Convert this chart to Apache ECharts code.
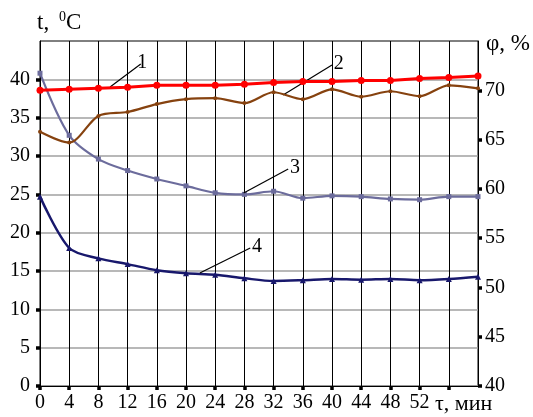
<!DOCTYPE html>
<html>
<head>
<meta charset="utf-8">
<script src="https://cdn.jsdelivr.net/npm/echarts@6/dist/echarts.min.js"></script>
<style>
html,body{margin:0;padding:0;background:#fff;}
#c{width:533px;height:417px;}
</style>
</head>
<body>
<div id="c"></div>
<script>
// time, min
const xValues = [0,4,8,12,16,20,24,28,32,36,40,44,48,52,56,60];
// curve 1 (φ, %)
const s1 = [70.0,70.1,70.2,70.3,70.5,70.5,70.5,70.6,70.8,70.9,70.9,71.0,71.0,71.2,71.3,71.45];
// curve 2 (φ, %)
const s2 = [65.8,64.7,67.4,67.8,68.6,69.1,69.2,68.7,69.8,69.1,70.1,69.35,69.9,69.4,70.5,70.2];
// curve 3 (t, °C)
const s3 = [40.8,32.7,29.6,28.1,27.0,26.1,25.2,25.0,25.4,24.5,24.8,24.7,24.4,24.3,24.7,24.7];
// curve 4 (t, °C)
const s4 = [24.7,18.0,16.65,15.9,15.1,14.7,14.5,14.05,13.7,13.8,13.96,13.87,13.96,13.8,13.96,14.26];
// tick values
const xTicks = [0,4,8,12,16,20,24,28,32,36,40,44,48,52,56];
const xLabelTicks = [0,4,8,12,16,20,24,28,32,36,40,44,48,52];
const tTicks = [0,5,10,15,20,25,30,35,40];
const phiTicks = [40,45,50,55,60,65,70];
// callout leader lines [x1, y1, x2, y2, label]
const call1 = [9.6, 70.33, 13.8, 72.67, '1'];
const call2 = [33.3, 69.52, 40.0, 72.57, '2'];
const call3 = [27.9, 25.17, 34.0, 28.3, '3'];
const call4 = [21.9, 14.74, 28.8, 18.0, '4'];

const font = 'Liberation Serif, serif';

function pairs(arr){ return xValues.map((x,i)=>[x,arr[i]]); }
function callout(c){
  return {
    silent: true,
    symbol: 'none',
    animation: false,
    lineStyle: {color:'#000', width:1.2, type:'solid'},
    label: {show:true, position:'end', formatter:c[4], color:'#000', fontSize:20, fontFamily:font, distance:2},
    emphasis: {disabled:true},
    data: [[{coord:[c[0],c[1]]},{coord:[c[2],c[3]]}]]
  };
}

const chart = echarts.init(document.getElementById('c'));
chart.setOption({
  animation: false,
  backgroundColor: '#fff',
  grid: {left:40, right:55, top:41, bottom:31, show:true, borderColor:'#000', borderWidth:1, backgroundColor:'transparent'},
  xAxis: {
    type:'value', min:0, max:60, interval:4,
    axisLine:{show:true, lineStyle:{color:'#000', width:1}},
    axisTick:{show:true, length:4, customValues:xTicks, lineStyle:{color:'#000', width:3.5}},
    axisLabel:{show:true, customValues:xLabelTicks, margin:7, color:'#000', fontSize:20, fontFamily:font},
    splitLine:{show:true, lineStyle:{color:'#000', width:1}}
  },
  yAxis: [
    {
      type:'value', min:0, max:45, interval:5, position:'left',
      axisLine:{show:true, lineStyle:{color:'#000', width:1}},
      axisTick:{show:true, length:4, customValues:tTicks, lineStyle:{color:'#000', width:3.5}},
      axisLabel:{show:true, customValues:tTicks, margin:10, color:'#000', fontSize:20, fontFamily:font},
      splitLine:{show:true, lineStyle:{color:'#a0a0a0', width:1.5}}
    },
    {
      type:'value', min:40, max:75, interval:5, position:'right',
      axisLine:{show:true, lineStyle:{color:'#000', width:1}},
      axisTick:{show:true, length:4, customValues:phiTicks, lineStyle:{color:'#000', width:3.5}},
      axisLabel:{show:true, customValues:phiTicks, margin:7, color:'#000', fontSize:20, fontFamily:font},
      splitLine:{show:false}
    }
  ],
  graphic: [
    {type:'text', x:37, y:11, style:{text:'t,', fill:'#000', fontSize:23, fontFamily:font, verticalAlign:'top', align:'left'}},
    {type:'text', x:59, y:10, style:{text:'0', fill:'#000', fontSize:14, fontFamily:font, verticalAlign:'top', align:'left'}},
    {type:'text', x:66, y:11, style:{text:'C', fill:'#000', fontSize:23, fontFamily:font, verticalAlign:'top', align:'left'}},
    {type:'text', x:486, y:32, style:{text:'φ, %', fill:'#000', fontSize:23, fontFamily:font, verticalAlign:'top', align:'left'}},
    {type:'text', x:435, y:393, style:{text:'τ, мин', fill:'#000', fontSize:22, fontFamily:font, verticalAlign:'top', align:'left'}}
  ],
  series: [
    {
      name:'1', type:'line', yAxisIndex:1, data:pairs(s1), z:6,
      lineStyle:{color:'#ff0000', width:3}, itemStyle:{color:'#ff0000'},
      symbol:'circle', symbolSize:7, showSymbol:true,
      markLine: callout(call1)
    },
    {
      name:'2', type:'line', yAxisIndex:1, data:pairs(s2), z:5, smooth:0.3,
      lineStyle:{color:'#86420f', width:2.2}, itemStyle:{color:'#86420f'},
      symbol:'circle', symbolSize:4,
      markLine: callout(call2)
    },
    {
      name:'3', type:'line', yAxisIndex:0, data:pairs(s3), z:4, smooth:0.3,
      lineStyle:{color:'#6c6c9c', width:2.2}, itemStyle:{color:'#6c6c9c'},
      symbol:'rect', symbolSize:5,
      markLine: callout(call3)
    },
    {
      name:'4', type:'line', yAxisIndex:0, data:pairs(s4), z:4, smooth:0.3,
      lineStyle:{color:'#18186c', width:2.5}, itemStyle:{color:'#18186c'},
      symbol:'triangle', symbolSize:6,
      markLine: callout(call4)
    }
  ]
});
</script>
</body>
</html>
